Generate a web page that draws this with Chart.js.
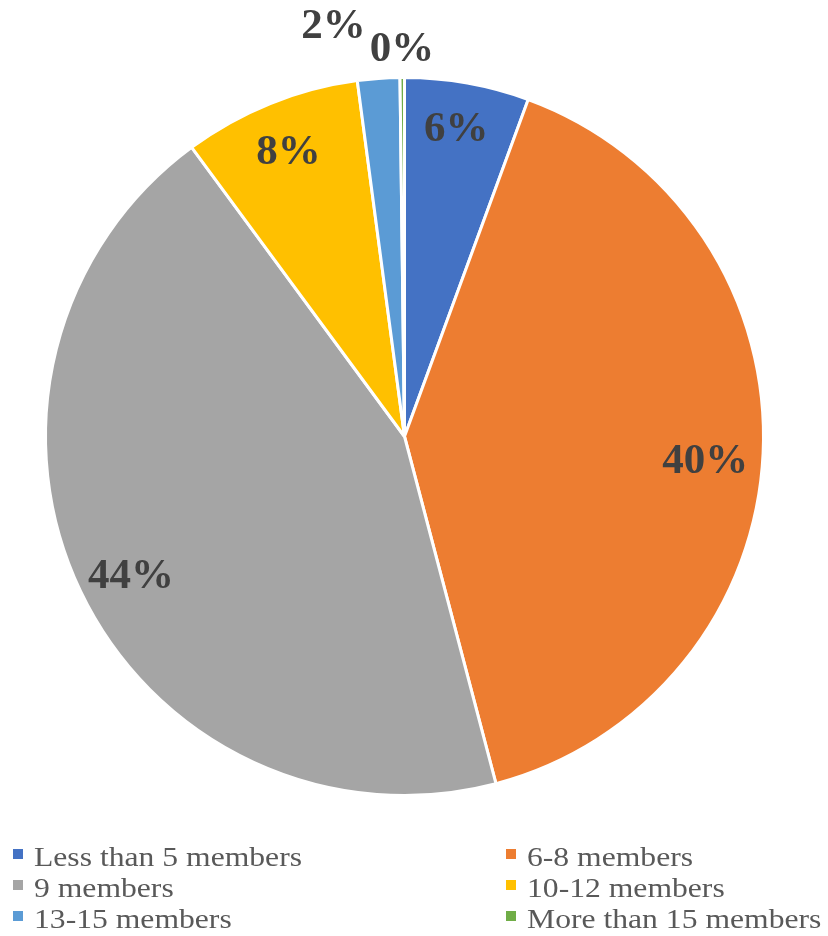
<!DOCTYPE html>
<html>
<head>
<meta charset="utf-8">
<script src="https://cdn.jsdelivr.net/npm/chart.js@4"></script>
<style>
  html, body { margin: 0; padding: 0; background: #fff; }
  #wrap { width: 828px; height: 936px; position: relative; }
</style>
</head>
<body>
<div id="wrap"><canvas id="pie" width="828" height="936"></canvas></div>
<script>
// data
const labels = ["Less than 5 members", "6-8 members", "9 members", "10-12 members", "13-15 members", "More than 15 members"];
const shares = [5.6, 40.3, 44.0, 8.0, 1.9, 0.2];
const percentLabels = ["6%", "40%", "44%", "8%", "2%", "0%"];

const sliceColors = ["#4472C4", "#ED7D31", "#A5A5A5", "#FFC000", "#5B9BD5", "#70AD47"];

// label placement tweaks (fraction of radius, angle nudge in degrees)
const labelRadius = [0.877, 0.84, 0.852, 0.864, 1.17, 1.089];
const labelNudge = [-0.6, 1.3, -1.0, 0, -5.6, 0];

const serif = "'Liberation Serif', 'Times New Roman', Times, serif";

const pctLabels = {
    id: "pctLabels",
    afterDatasetsDraw(chart) {
        const ctx = chart.ctx;
        const arcs = chart.getDatasetMeta(0).data;
        ctx.save();
        ctx.font = "bold 43px " + serif;
        ctx.fillStyle = "#404040";
        ctx.textAlign = "center";
        ctx.textBaseline = "alphabetic";
        arcs.forEach((arc, i) => {
            const p = arc.getProps(["x", "y", "startAngle", "endAngle", "outerRadius"], true);
            const mid = (p.startAngle + p.endAngle) / 2 + labelNudge[i] * Math.PI / 180;
            const r = p.outerRadius * labelRadius[i];
            const x = p.x + Math.cos(mid) * r;
            const y = p.y + Math.sin(mid) * r;
            ctx.fillText(percentLabels[i], x, y + 15);
        });
        ctx.restore();
    }
};

const legendGrid = {
    id: "legendGrid",
    afterDraw(chart) {
        const ctx = chart.ctx;
        const colX = [13, 506];
        const rowY = [866, 897, 928];
        ctx.save();
        ctx.font = "28px " + serif;
        ctx.textBaseline = "alphabetic";
        ctx.textAlign = "left";
        chart.data.labels.forEach((lab, i) => {
            const x = colX[i % 2];
            const y = rowY[Math.floor(i / 2)];
            ctx.fillStyle = sliceColors[i];
            ctx.fillRect(x, y - 17, 10, 10);
            ctx.fillStyle = "#595959";
            ctx.save();
            ctx.translate(x + 21, y);
            ctx.scale(1.13, 1);
            ctx.fillText(lab, 0, 0);
            ctx.restore();
        });
        ctx.restore();
    }
};

new Chart(document.getElementById("pie").getContext("2d"), {
    type: "pie",
    data: {
        labels: labels,
        datasets: [{
            data: shares,
            backgroundColor: sliceColors,
            borderColor: "#ffffff",
            borderWidth: 3
        }]
    },
    options: {
        responsive: false,
        animation: false,
        layout: { padding: { top: 76, bottom: 139, left: 44, right: 63 } },
        plugins: {
            legend: { display: false },
            tooltip: { enabled: false }
        }
    },
    plugins: [pctLabels, legendGrid]
});
</script>
</body>
</html>
